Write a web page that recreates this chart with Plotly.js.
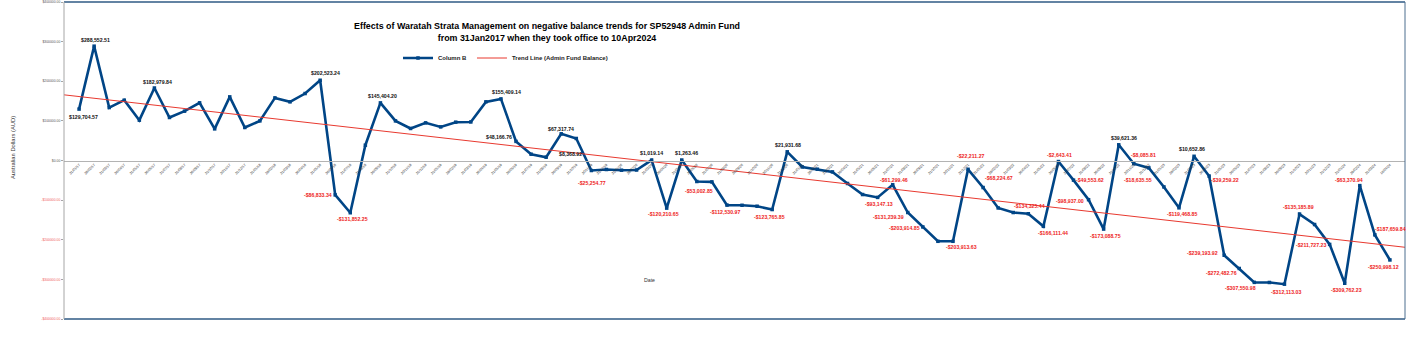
<!DOCTYPE html>
<html>
<head>
<meta charset="utf-8">
<script src="https://cdn.plot.ly/plotly-3.0.1.min.js"></script>
<style>html,body{margin:0;padding:0;background:#fff;}#chart{width:1407px;height:355px;}</style>
</head>
<body>
<div id="chart"></div>
<script>
// ---- data ----
const dates = [
 "31/01/17","28/02/17","31/03/17","30/04/17","31/05/17","30/06/17","31/07/17","31/08/17","30/09/17","31/10/17","30/11/17","31/12/17",
 "31/01/18","28/02/18","31/03/18","30/04/18","31/05/18","30/06/18","31/07/18","31/08/18","30/09/18","31/10/18","30/11/18","31/12/18",
 "31/01/19","28/02/19","31/03/19","30/04/19","31/05/19","30/06/19","31/07/19","31/08/19","30/09/19","31/10/19","30/11/19","31/12/19",
 "31/01/20","29/02/20","31/03/20","30/04/20","31/05/20","30/06/20","31/07/20","31/08/20","30/09/20","31/10/20","30/11/20","31/12/20",
 "31/01/21","28/02/21","31/03/21","30/04/21","31/05/21","30/06/21","31/07/21","31/08/21","30/09/21","31/10/21","30/11/21","31/12/21",
 "31/01/22","28/02/22","31/03/22","30/04/22","31/05/22","30/06/22","31/07/22","31/08/22","30/09/22","31/10/22","30/11/22","31/12/22",
 "31/01/23","28/02/23","31/03/23","30/04/23","31/05/23","30/06/23","31/07/23","31/08/23","30/09/23","31/10/23","30/11/23","31/12/23",
 "31/01/24","29/02/24","31/03/24","10/04/24"
];
const balance = [
 129704.57, 288552.51, 133600, 152300, 101800, 182979.84, 108600, 124500, 145500, 79800, 160600, 83300,
 100000, 158000, 148000, 169000, 202523.24, -86833.34, -131852.25, 38600, 145404.20, 100000, 80800, 95000,
 84800, 96700, 97300, 148000, 155409.14, 48166.76, 15900, 8368.92, 67317.74, 55600, -25254.77, -22700,
 -24500, -24000, 1019.14, -120210.65, 1263.46, -53002.85, -54000, -112530.97, -113000, -115400, -123765.85, 21931.68,
 -16200, -22000, -28800, -58000, -85900, -93147.13, -61299.46, -131239.39, -167700, -203914.85, -203913.63, -22211.27,
 -68224.67, -119700, -131300, -134325.44, -166111.44, -2643.41, -49553.62, -98937.00, -173088.75, 39621.36, -8085.81, -18635.55,
 -66700, -119468.85, 10652.86, -39259.22, -239193.92, -272482.76, -307550.98, -307800, -312113.03, -135185.89, -161600, -211727.23,
 -309762.23, -63370.94, -187659.84, -250998.12
];
// trend line (Admin Fund Balance), read at the plot edges
const trendIdx = [-1, 88];
const trendVal = [165700, -219000];
// labelled points: index and label text
const labelIdx = [0,1,5,16,17,18,20,28,29,31,32,34,38,39,40,41,43,46,47,53,54,55,57,58,59,60,63,64,65,66,67,68,69,70,71,73,74,75,76,77,78,80,81,83,84,85,86,87];
const labelText = ["$129,704.57","$288,552.51","$182,979.84","$202,523.24","-$86,833.34","-$131,852.25","$145,404.20","$155,409.14","$48,166.76","$8,368.92","$67,317.74","-$25,254.77","$1,019.14","-$120,210.65","$1,263.46","-$53,002.85","-$112,530.97","-$123,765.85","$21,931.68","-$93,147.13","-$61,299.46","-$131,239.39","-$203,914.85","-$203,913.63","-$22,211.27","-$68,224.67","-$134,325.44","-$166,111.44","-$2,643.41","-$49,553.62","-$98,937.00","-$173,088.75","$39,621.36","-$8,085.81","-$18,635.55","-$119,468.85","$10,652.86","-$39,259.22","-$239,193.92","-$272,482.76","-$307,550.98","-$312,113.03","-$135,185.89","-$211,727.23","-$309,762.23","-$63,370.94","-$187,659.84","-$250,998.12"];
const yTickVals = [400000,300000,200000,100000,0,-100000,-200000,-300000,-400000];
const yTickText = ["$400000.00","$300000.00","$200000.00","$100000.00","$0.00","-$100000.00","-$200000.00","-$300000.00","-$400000.00"];

// ---- styles (label offsets in px: [dx, dy-down]) ----
const labelOffsets = [[4,8],[1,-6],[3,-6],[5,-7],[-17,0],[2,6],[2,-7],[6,-7],[-17,-4],[24,-3],[0,-5],[1,12],[0,-7],[-3,6],[5,-7],[2,9],[-2,7],[-3,7],[1,-7],[1,7],[1,-5],[-19,4],[-33,-13],[9,6],[3,-13],[16,-10],[1,-8],[10,7],[1,-7],[16,0],[-19,1],[2,7],[5,-7],[10,-9],[-11,12],[3,6],[-2,-7],[16,4],[-22,-2],[-18,5],[-14,6],[2,8],[-1,-7],[-19,1],[2,7],[-11,-6],[16,-6],[-6,7]];

const idx = balance.map((_, i) => i);

const traces = [
  {
    x: idx, y: balance, type: 'scatter', mode: 'lines+markers', name: 'Column B',
    line: {color: '#004586', width: 2.6},
    marker: {color: '#004586', size: 3.5, symbol: 'square'},
    hoverinfo: 'skip'
  },
  {
    x: trendIdx, y: trendVal, type: 'scatter', mode: 'lines', name: 'Trend Line (Admin Fund Balance)',
    line: {color: '#e8392f', width: 1},
    hoverinfo: 'skip'
  }
];

const annotations = labelIdx.map((k, j) => ({
  x: k, y: balance[k], xref: 'x', yref: 'y', text: labelText[j], showarrow: false,
  xshift: labelOffsets[j][0], yshift: -labelOffsets[j][1],
  font: {family: 'Liberation Sans, Arial, sans-serif', size: 5.2, color: balance[k] < 0 ? '#ee1c1c' : '#111111', weight: 'bold'}
}));
annotations.push({
  xref: 'paper', yref: 'paper', x: (8 - 64) / 1341, y: (319 - 148) / 317, text: 'Australian Dollars (AUD)',
  textangle: -90, showarrow: false, font: {family: 'Liberation Sans, Arial, sans-serif', size: 5.8, color: '#333333'}
});
annotations.push({
  xref: 'paper', yref: 'paper', x: (649 - 64) / 1341, y: (319 - 285) / 317, text: 'Date',
  showarrow: false, font: {family: 'Liberation Sans, Arial, sans-serif', size: 5.2, color: '#333333'}
});

const shapes = [
  {type: 'line', xref: 'paper', yref: 'paper', x0: 0, x1: 1, y0: 1, y1: 1, line: {color: '#2f5a84', width: 1.3}},
  {type: 'line', xref: 'paper', yref: 'paper', x0: 0, x1: 1, y0: 0, y1: 0, line: {color: '#2f5a84', width: 1.3}},
  {type: 'line', xref: 'paper', yref: 'paper', x0: 1, x1: 1, y0: 0, y1: 1, line: {color: '#4d6f8f', width: 1}},
  {type: 'line', xref: 'paper', yref: 'paper', x0: 0, x1: 0, y0: 0, y1: 1, line: {color: '#a6a6a6', width: 1}}
];

const coloredY = yTickText.map((t, i) => yTickVals[i] < 0 ? '<span style="color:#f06060">' + t + '</span>' : t);

const layout = {
  width: 1407, height: 355,
  margin: {l: 64, r: 2, t: 2, b: 36},
  paper_bgcolor: '#ffffff', plot_bgcolor: '#ffffff',
  font: {family: 'Liberation Sans, Arial, sans-serif', color: '#333333'},
  title: {
    text: '<b>Effects of Waratah Strata Management on negative balance trends for SP52948 Admin Fund<br>from 31Jan2017 when they took office to 10Apr2024</b>',
    x: 547 / 1407, xanchor: 'center', y: 1 - 29 / 355, yanchor: 'top',
    font: {family: 'Liberation Sans, Arial, sans-serif', size: 8.9, color: '#000000'}
  },
  showlegend: true,
  legend: {
    orientation: 'h', x: (398 - 64) / 1341, xanchor: 'left', y: (319 - 58) / 317, yanchor: 'middle',
    font: {family: 'Liberation Sans, Arial, sans-serif', size: 6, color: '#222222', weight: 'bold'},
    bgcolor: 'rgba(0,0,0,0)', itemwidth: 30, tracegroupgap: 0
  },
  xaxis: {
    type: 'linear', range: [-1, 88], anchor: 'free', position: 0.5,
    tickmode: 'array', tickvals: idx, ticktext: dates, tickangle: -45,
    tickfont: {size: 3.5, color: '#333333'},
    showgrid: false, zeroline: false, showline: true, linecolor: '#b3b3b3', linewidth: 1,
    ticks: '', fixedrange: true
  },
  yaxis: {
    range: [-400000, 400000], tickmode: 'array', tickvals: yTickVals, ticktext: coloredY,
    tickfont: {size: 3.4, color: '#555555'},
    showgrid: false, zeroline: false, showline: false,
    ticks: 'outside', ticklen: 2, tickcolor: '#a6a6a6', fixedrange: true
  },
  annotations: annotations,
  shapes: shapes
};

Plotly.newPlot('chart', traces, layout, {displayModeBar: false, staticPlot: true});
</script>
</body>
</html>
